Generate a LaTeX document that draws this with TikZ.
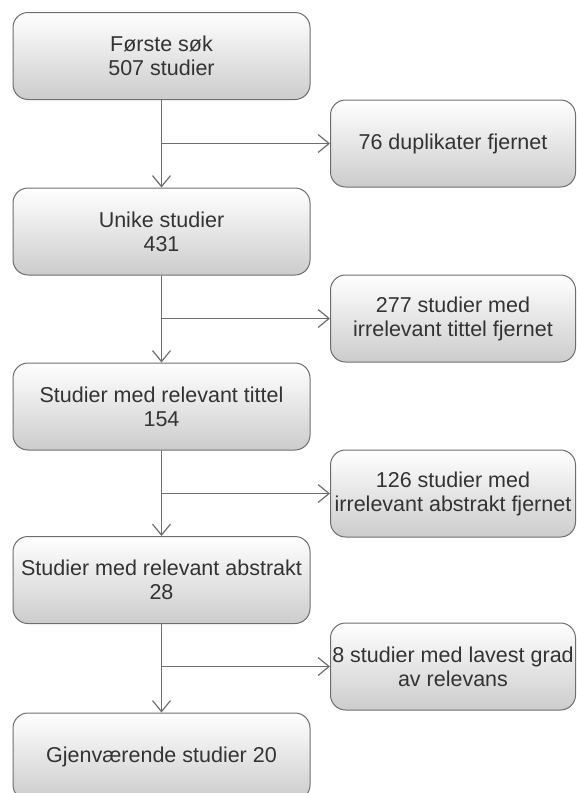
\documentclass[tikz,border=0pt]{standalone}
\usepackage{fontspec}
\setmainfont{Liberation Sans}
\usepackage{tikz}
\usetikzlibrary{arrows.meta}

\definecolor{boxline}{HTML}{6E6E6E}
\definecolor{boxtext}{HTML}{333333}

\begin{document}
\begin{tikzpicture}
  [x=1pt,y=-1pt,
   every node/.style={rectangle,rounded corners=15pt,draw=boxline,line width=1pt,
     top color=white,bottom color=black!20,text=boxtext,align=center,
     font=\fontsize{21.5}{24}\selectfont,inner sep=0pt},
   stage/.style={minimum width=297pt,minimum height=87pt},
   drop/.style={minimum width=245pt,minimum height=87pt},
   flow/.style={draw=boxline,line width=1.2pt,-{Straight Barb[length=11pt,width=18pt,line width=1.2pt]}}]
  \clip (0,0) rectangle (576,793);
  \node [stage] (s1) at (161.5,56) {Første søk\\507 studier};
  \node [stage] (s2) at (161.5,231.5) {Unike studier\\431};
  \node [stage] (s3) at (161.5,406.5) {Studier med relevant tittel\\154};
  \node [stage] (s4) at (161.5,580) {Studier med relevant abstrakt\\28};
  \node [stage] (s5) at (161.5,756.5) {Gjenværende studier 20};
  \node [drop] (d1) at (453,143.5) {76 duplikater fjernet};
  \node [drop] (d2) at (453,318.5) {277 studier med\\irrelevant tittel fjernet};
  \node [drop] (d3) at (453,493.5) {126 studier med\\irrelevant abstrakt fjernet};
  \node [drop] (d4) at (453,666.5) {8 studier med lavest grad\\av relevans};

  \foreach \from/\to in {s1/s2,s2/s3,s3/s4,s4/s5}
    \draw [flow] (\from.south) -- (\to.north);

  \foreach \from/\to in {s1/d1,s2/d2,s3/d3,s4/d4}
  {
    \coordinate (b\to) at (\from.south |- \to.west);
    \draw [flow] (b\to) -- (\to.west);
  }

\end{tikzpicture}
\end{document}
